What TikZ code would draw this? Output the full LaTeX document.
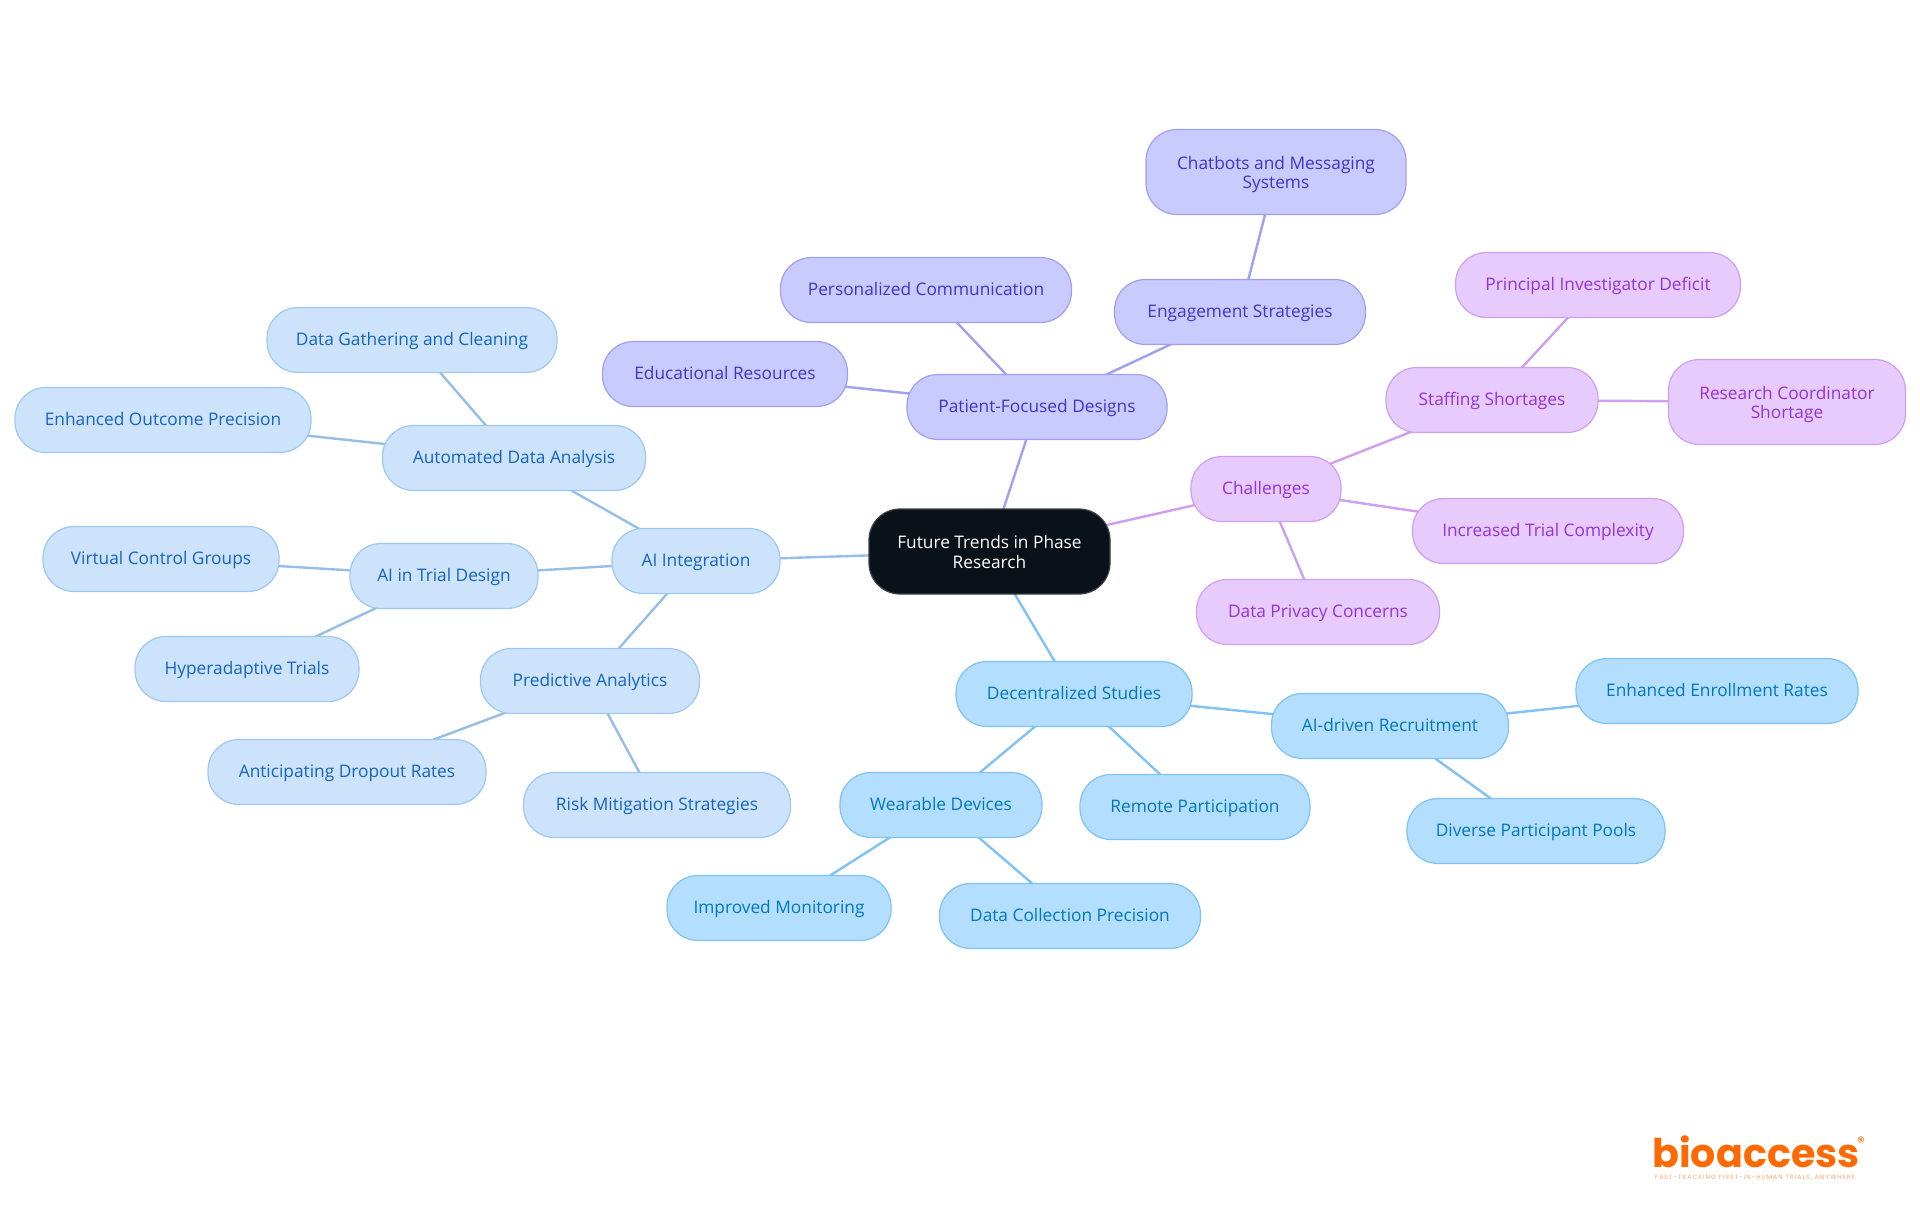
\documentclass[tikz,border=0pt]{standalone}
\usepackage{fontspec}
\setmainfont{Open Sans}
\newfontfamily\logofont{Poppins}
\newfontfamily\taglinefont[LetterSpace=17]{Poppins}
\usetikzlibrary{backgrounds}
\definecolor{rootfill}{HTML}{0B1119}
\definecolor{skyfill}{HTML}{CDE2FB}
\definecolor{skyline}{HTML}{9EC8F2}
\definecolor{skytext}{HTML}{1565C0}
\definecolor{cyanfill}{HTML}{B3DEFE}
\definecolor{cyanline}{HTML}{7FC2F3}
\definecolor{cyantext}{HTML}{0277BD}
\definecolor{indigofill}{HTML}{C9CAFD}
\definecolor{indigoline}{HTML}{A0A0F2}
\definecolor{indigotext}{HTML}{3F35C8}
\definecolor{violetfill}{HTML}{E7CBFC}
\definecolor{violetline}{HTML}{CE9FF0}
\definecolor{violettext}{HTML}{9333D8}
\definecolor{logoorange}{HTML}{FF6A00}
\tikzset{
    topic/.style={rounded corners=31pt, minimum height=65pt, inner sep=0pt, align=center, line width=1.2pt, font=\fontsize{17.3}{19.6}\selectfont,
        execute at begin node=\rule{0pt}{15pt}, execute at end node=\rule[-4.4pt]{0pt}{4.4pt}},
    tall/.style={topic, minimum height=85pt, execute at begin node=\rule{0pt}{37.6pt}},
    roottopic/.style={tall, fill=rootfill, draw=rootfill!80!white, text=white},
    skytopic/.style={fill=skyfill, draw=skyline, text=skytext},
    cyantopic/.style={fill=cyanfill, draw=cyanline, text=cyantext},
    indigotopic/.style={fill=indigofill, draw=indigoline, text=indigotext},
    violettopic/.style={fill=violetfill, draw=violetline, text=violettext},
    skyedge/.style={line width=2.4pt, draw=skyline!95!black},
    cyanedge/.style={line width=2.4pt, draw=cyanline},
    indigoedge/.style={line width=2.4pt, draw=indigoline},
    violetedge/.style={line width=2.4pt, draw=violetline},
}
\begin{document}
\begin{tikzpicture}[x=1pt, y=-1pt]
    \useasboundingbox (0, 0) rectangle (1920, 1215);
    \node (root) at (989.5, 551.5) [roottopic, minimum width=241pt] {Future Trends in Phase\\Research};

    \node (patient) at (1037, 407) [topic, indigotopic, minimum width=260pt] {Patient-Focused Designs};
    \node (educational) at (725, 374) [topic, indigotopic, minimum width=245pt] {Educational Resources};
    \node (personalized) at (926, 290) [topic, indigotopic, minimum width=291pt] {Personalized Communication};
    \node (engagement) at (1240, 312) [topic, indigotopic, minimum width=251pt] {Engagement Strategies};
    \node (chatbots) at (1276, 172) [tall, indigotopic, minimum width=260pt] {Chatbots and Messaging\\Systems};

    \node (challenges) at (1266, 489) [topic, violettopic, minimum width=150pt] {Challenges};
    \node (staffing) at (1492, 400) [topic, violettopic, minimum width=212pt] {Staffing Shortages};
    \node (principal) at (1598, 285) [topic, violettopic, minimum width=285pt] {Principal Investigator Deficit};
    \node (coordinator) at (1787, 402) [tall, violettopic, minimum width=237pt] {Research Coordinator\\Shortage};
    \node (complexity) at (1548, 531) [topic, violettopic, minimum width=271pt] {Increased Trial Complexity};
    \node (privacy) at (1318, 612) [topic, violettopic, minimum width=243pt] {Data Privacy Concerns};

    \node (decentralized) at (1074, 694) [topic, cyantopic, minimum width=236pt] {Decentralized Studies};
    \node (recruitment) at (1390, 726) [topic, cyantopic, minimum width=237pt] {AI-driven Recruitment};
    \node (enrollment) at (1717, 691) [topic, cyantopic, minimum width=282pt] {Enhanced Enrollment Rates};
    \node (diverse) at (1536, 831) [topic, cyantopic, minimum width=258pt] {Diverse Participant Pools};
    \node (remote) at (1195, 807) [topic, cyantopic, minimum width=230pt] {Remote Participation};
    \node (wearable) at (941, 805) [topic, cyantopic, minimum width=202pt] {Wearable Devices};
    \node (monitoring) at (779, 908) [topic, cyantopic, minimum width=224pt] {Improved Monitoring};
    \node (collection) at (1070, 916) [topic, cyantopic, minimum width=261pt] {Data Collection Precision};

    \node (integration) at (696, 561) [topic, skytopic, minimum width=168pt] {AI Integration};
    \node (automated) at (514, 458) [topic, skytopic, minimum width=263pt] {Automated Data Analysis};
    \node (gathering) at (412, 340) [topic, skytopic, minimum width=290pt] {Data Gathering and Cleaning};
    \node (outcome) at (163, 420) [topic, skytopic, minimum width=296pt] {Enhanced Outcome Precision};
    \node (design) at (444, 576) [topic, skytopic, minimum width=188pt] {AI in Trial Design};
    \node (virtual) at (161, 559) [topic, skytopic, minimum width=236pt] {Virtual Control Groups};
    \node (hyper) at (247, 669) [topic, skytopic, minimum width=224pt] {Hyperadaptive Trials};
    \node (predictive) at (590, 681) [topic, skytopic, minimum width=219pt] {Predictive Analytics};
    \node (dropout) at (347, 772) [topic, skytopic, minimum width=278pt] {Anticipating Dropout Rates};
    \node (risk) at (657, 805) [topic, skytopic, minimum width=267pt] {Risk Mitigation Strategies};

    \begin{scope}[on background layer]
        \draw[indigoedge] (root.center) -- (patient.center);
        \draw[indigoedge] (patient.center) -- (educational.center);
        \draw[indigoedge] (patient.center) -- (personalized.center);
        \draw[indigoedge] (patient.center) -- (engagement.center);
        \draw[indigoedge] (engagement.center) -- (chatbots.center);
        \draw[violetedge] (root.center) -- (challenges.center);
        \draw[violetedge] (challenges.center) -- (staffing.center);
        \draw[violetedge] (staffing.center) -- (principal.center);
        \draw[violetedge] (staffing.center) -- (coordinator.center);
        \draw[violetedge] (challenges.center) -- (complexity.center);
        \draw[violetedge] (challenges.center) -- (privacy.center);
        \draw[cyanedge] (root.center) -- (decentralized.center);
        \draw[cyanedge] (decentralized.center) -- (recruitment.center);
        \draw[cyanedge] (recruitment.center) -- (enrollment.center);
        \draw[cyanedge] (recruitment.center) -- (diverse.center);
        \draw[cyanedge] (decentralized.center) -- (remote.center);
        \draw[cyanedge] (decentralized.center) -- (wearable.center);
        \draw[cyanedge] (wearable.center) -- (monitoring.center);
        \draw[cyanedge] (wearable.center) -- (collection.center);
        \draw[skyedge] (root.center) -- (integration.center);
        \draw[skyedge] (integration.center) -- (automated.center);
        \draw[skyedge] (automated.center) -- (gathering.center);
        \draw[skyedge] (automated.center) -- (outcome.center);
        \draw[skyedge] (integration.center) -- (design.center);
        \draw[skyedge] (design.center) -- (virtual.center);
        \draw[skyedge] (design.center) -- (hyper.center);
        \draw[skyedge] (integration.center) -- (predictive.center);
        \draw[skyedge] (predictive.center) -- (dropout.center);
        \draw[skyedge] (predictive.center) -- (risk.center);
    \end{scope}

    \node (logo) at (1756, 1167) [anchor=base, text=logoorange, font=\logofont\bfseries\fontsize{39.6}{40}\selectfont, inner sep=0pt] {bioaccess};
    \node (registered) at (1861, 1142) [text=logoorange, font=\logofont\fontsize{15}{15}\selectfont, inner sep=0pt] {®};
    \node (tagline) at (1755, 1177.5) [text=logoorange!60!white, font=\taglinefont\fontsize{6.2}{7}\selectfont, inner sep=0pt] {FAST-TRACKING FIRST-IN-HUMAN TRIALS, ANYWHERE};
\end{tikzpicture}
\end{document}
